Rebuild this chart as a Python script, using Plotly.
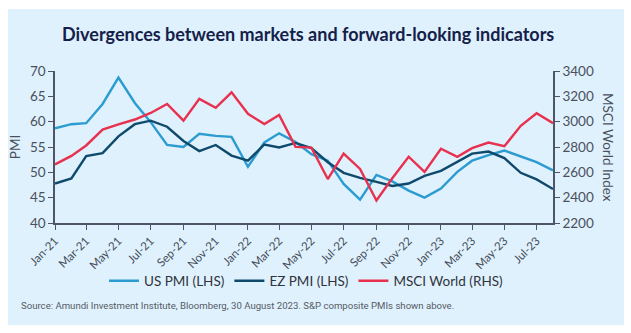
import pandas as pd
import plotly.graph_objects as go

months = pd.date_range("2021-01-01", "2023-08-01", freq="MS")

us_pmi = [58.7, 59.5, 59.7, 63.5, 68.7, 63.7, 59.9, 55.4, 55.0, 57.6, 57.2, 57.0,
          51.1, 55.9, 57.7, 56.0, 53.6, 52.3, 47.7, 44.6, 49.5, 48.2, 46.4, 45.0,
          46.8, 50.1, 52.3, 53.4, 54.3, 53.2, 52.0, 50.4]
ez_pmi = [47.8, 48.8, 53.2, 53.8, 57.1, 59.5, 60.2, 59.0, 56.2, 54.2, 55.4, 53.3,
          52.3, 55.5, 54.9, 55.8, 54.8, 52.0, 49.9, 48.9, 48.1, 47.3, 47.8, 49.3,
          50.3, 52.0, 53.7, 54.1, 52.8, 49.9, 48.6, 46.7]
msci_world = [2662, 2730, 2812, 2938, 2979, 3017, 3069, 3140, 3008, 3180, 3109, 3232,
              3062, 2981, 3053, 2801, 2795, 2547, 2747, 2627, 2378, 2553, 2723, 2603,
              2786, 2722, 2791, 2835, 2806, 2967, 3066, 2988]

tick_labels = ["Jan-21", "Mar-21", "May-21", "Jul-21", "Sep-21", "Nov-21",
               "Jan-22", "Mar-22", "May-22", "Jul-22", "Sep-22", "Nov-22",
               "Jan-23", "Mar-23", "May-23", "Jul-23"]
tick_vals = list(months[::2])

title = "Divergences between markets and forward-looking indicators"
source = "Source: Amundi Investment Institute, Bloomberg, 30 August 2023. S&P composite PMIs shown above."

C_US = "#2b9bd0"
C_EZ = "#0f4a6c"
C_MSCI = "#e8304f"
AX = "#4d5566"
BG = "#dff1fc"

fig = go.Figure()
fig.add_trace(go.Scatter(x=months, y=us_pmi, name="US PMI (LHS)", mode="lines",
                         line=dict(color=C_US, width=2.4)))
fig.add_trace(go.Scatter(x=months, y=ez_pmi, name="EZ PMI (LHS)", mode="lines",
                         line=dict(color=C_EZ, width=2.4)))
fig.add_trace(go.Scatter(x=months, y=msci_world, name="MSCI World (RHS)", mode="lines",
                         line=dict(color=C_MSCI, width=2.4), yaxis="y2"))

H = 152.0
W = 498.0

fig.update_layout(
    width=631, height=333,
    margin=dict(l=55, r=78, t=71, b=110, autoexpand=False),
    paper_bgcolor="white",
    plot_bgcolor=BG,
    font=dict(family="Lato", color="#3a3f4a", size=12),
    showlegend=True,
    legend=dict(orientation="h", x=(306-55)/W, xanchor="center", xref="paper",
                y=-(281-223)/H, yanchor="middle", font=dict(size=13.5, color="#2f3440"),
                bgcolor="rgba(0,0,0,0)", itemwidth=30, tracegroupgap=0),
    xaxis=dict(range=[months[0], months[-1]], tickvals=tick_vals, ticktext=tick_labels,
               tickangle=-45, showgrid=False, showline=True, linecolor=AX, linewidth=1.5,
               ticks="outside", ticklen=5, tickcolor=AX, tickfont=dict(size=11.5, color="#444b58"),
               zeroline=False),
    yaxis=dict(range=[40, 70], dtick=5, showgrid=False, showline=True, linecolor=AX,
               linewidth=1.5, ticks="outside", ticklen=5, tickcolor=AX, zeroline=False,
               tickfont=dict(size=13.5, color="#4a505c"),
               title=dict(text="PMI", font=dict(size=13.5, color="#4a505c"), standoff=6)),
    yaxis2=dict(range=[2200, 3400], dtick=200, overlaying="y", side="right", showgrid=False,
                showline=True, linecolor=AX, linewidth=1.5, ticks="outside", ticklen=5,
                tickcolor=AX, zeroline=False, tickfont=dict(size=13.5, color="#4a505c")),
    shapes=[dict(type="rect", xref="paper", yref="paper", layer="below",
                 x0=-47/W, x1=(624-55)/W, y0=-(325-223)/H, y1=(223-9)/H,
                 fillcolor=BG, line=dict(width=0))],
    annotations=[
        dict(text="<b>" + title + "</b>", xref="paper", yref="paper",
             x=(308-55)/W, y=(223-34)/H, xanchor="center", yanchor="middle",
             showarrow=False, font=dict(size=18, color="#15204a", family="Lato")),
        dict(text="MSCI World Index", xref="paper", yref="paper", textangle=90,
             x=(608-55)/W, y=0.5, xanchor="center", yanchor="middle", showarrow=False,
             font=dict(size=13.5, color="#4a505c")),
        dict(text=source, xref="paper", yref="paper", x=(19-55)/W, y=-(305-223)/H,
             xanchor="left", yanchor="middle", showarrow=False,
             font=dict(size=9.6, color="#555b66",
                       family="Liberation Sans Narrow, Arial Narrow, Roboto, sans-serif")),
    ],
)

fig.write_html("out.html")
